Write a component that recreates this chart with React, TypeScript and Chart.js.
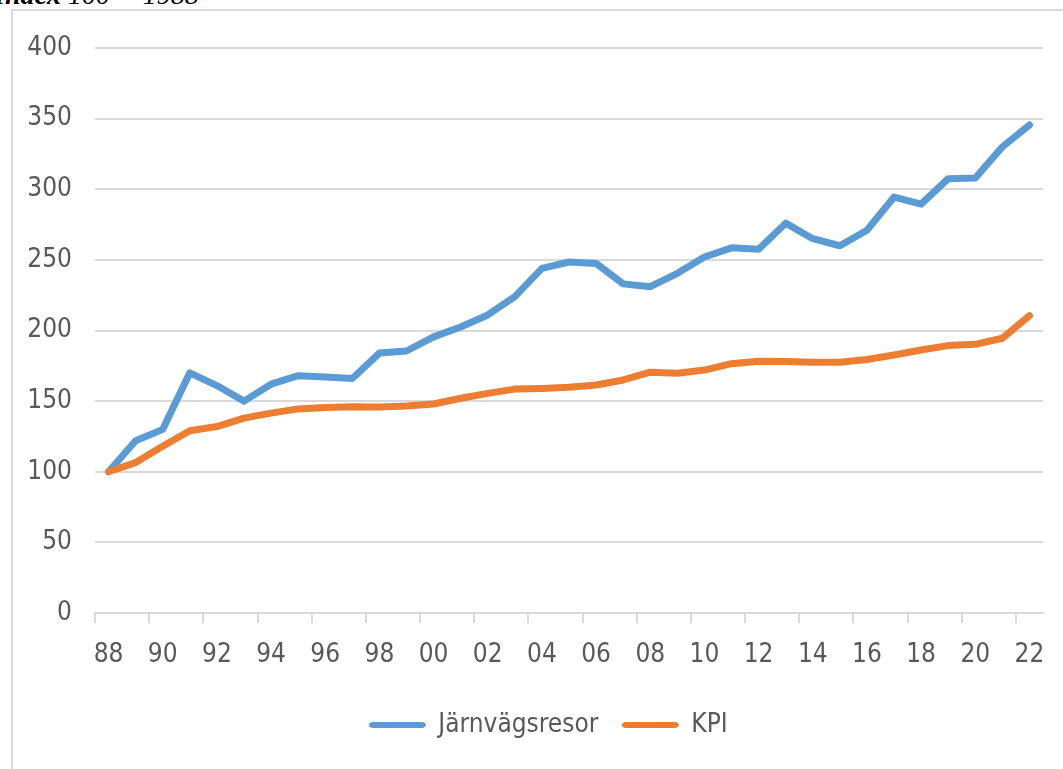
import React, { useEffect, useRef } from "react";
import { Chart, registerables } from "chart.js";

Chart.register(...registerables);

const years = [
  "1988", "1989", "1990", "1991", "1992", "1993", "1994", "1995", "1996", "1997",
  "1998", "1999", "2000", "2001", "2002", "2003", "2004", "2005", "2006", "2007",
  "2008", "2009", "2010", "2011", "2012", "2013", "2014", "2015", "2016", "2017",
  "2018", "2019", "2020", "2021", "2022",
];

const railTrips = [
  100, 122, 130, 170, 161, 150, 162, 168, 167, 166,
  184, 185.5, 195.5, 202.5, 211, 224, 244, 248.5, 247.5, 233,
  231, 240.5, 252, 258.5, 257.5, 276, 265, 260, 271, 294.5,
  289.5, 307.5, 308, 330, 345.5,
];

const cpi = [
  100, 106.5, 118, 129, 132, 138, 141.5, 144.5, 145.5, 146,
  145.8, 146.5, 148, 152, 155.5, 158.5, 159, 159.8, 161.4, 165,
  170.5, 169.7, 172, 176.5, 178.3, 178, 177.5, 177.5, 179.5, 182.7,
  186.2, 189.3, 190.2, 194.5, 210.5,
];

const seriesNames = ["Järnvägsresor", "KPI"];
const seriesColors = ["#5B9BD5", "#ED7D31"];
const yTicks = { min: 0, max: 400, step: 50 };

const FONT = "'DejaVu Sans Condensed', 'Open Sans', sans-serif";
const TEXT = "#595959";
const GRID = "#d9d9d9";

const legendShift = {
  id: "legendShift",
  afterLayout(chart: any) {
    const lg = chart.legend;
    if (lg) {
      lg.left += 27;
      lg.right += 27;
    }
  },
};

export default function App() {
  const ref = useRef<HTMLCanvasElement | null>(null);

  useEffect(() => {
    if (!ref.current) return;
    const chart = new Chart(ref.current, {
      type: "line",
      data: {
        labels: years,
        datasets: [
          {
            label: seriesNames[0],
            data: railTrips,
            borderColor: seriesColors[0],
            backgroundColor: seriesColors[0],
            borderWidth: 7,
            pointRadius: 0,
            tension: 0,
            borderCapStyle: "round",
            borderJoinStyle: "round",
            order: 1,
          },
          {
            label: seriesNames[1],
            data: cpi,
            borderColor: seriesColors[1],
            backgroundColor: seriesColors[1],
            borderWidth: 7,
            pointRadius: 0,
            tension: 0,
            borderCapStyle: "round",
            borderJoinStyle: "round",
            order: 0,
          },
        ],
      },
      plugins: [legendShift],
      options: {
        responsive: false,
        animation: false,
        layout: { padding: { top: 48, right: 20, left: 0, bottom: 21 } },
        plugins: {
          tooltip: { enabled: false },
          legend: {
            position: "bottom",
            labels: {
              color: TEXT,
              font: { family: FONT, size: 26 },
              boxWidth: 56,
              boxHeight: 5,
              padding: 24,
              useBorderRadius: true,
              borderRadius: 3,
              sort: (a: any, b: any) => a.datasetIndex - b.datasetIndex,
              generateLabels: (c: any) => {
                const items = Chart.defaults.plugins.legend.labels.generateLabels(c);
                return items.map((it: any) => {
                  const col = seriesColors[it.datasetIndex];
                  return { ...it, fillStyle: col, strokeStyle: col, lineWidth: 1, borderRadius: 3, fontColor: TEXT };
                });
              },
            },
          },
        },
        scales: {
          x: {
            type: "category",
            offset: true,
            afterFit: (s: any) => {
              s.height = 75;
            },
            grid: {
              offset: true,
              drawOnChartArea: false,
              drawTicks: true,
              tickLength: 10,
              lineWidth: 2,
              tickWidth: 2,
              color: GRID,
              tickColor: (ctx: any) => (typeof ctx.index === "number" && ctx.index % 2 === 0 ? GRID : "rgba(0,0,0,0)"),
            },
            border: { display: true, color: GRID, width: 2 },
            ticks: {
              autoSkip: false,
              maxRotation: 0,
              minRotation: 0,
              padding: 17,
              color: TEXT,
              font: { family: FONT, size: 26 },
              callback: (_v: any, i: number) => (i % 2 === 0 ? years[i].slice(2) : ""),
            },
          },
          y: {
            min: yTicks.min,
            max: yTicks.max,
            afterFit: (s: any) => {
              s.width = 95;
            },
            grid: { color: GRID, lineWidth: 2, drawTicks: false },
            border: { display: false },
            ticks: {
              stepSize: yTicks.step,
              padding: 23,
              color: TEXT,
              font: { family: FONT, size: 26 },
            },
          },
        },
      },
    });
    return () => chart.destroy();
  }, []);

  return (
    <div style={{ position: "fixed", left: 0, top: 0, width: 1063, height: 769, overflow: "hidden", background: "#fff" }}>
      <div
        style={{
          position: "absolute",
          left: 11,
          top: 9,
          width: 1100,
          height: 800,
          border: "2px solid #d9d9d9",
          boxSizing: "border-box",
        }}
      />
      <div
        style={{
          position: "absolute",
          left: -6,
          top: -19,
          whiteSpace: "nowrap",
          fontFamily: "'Liberation Serif', 'Times New Roman', serif",
          fontSize: 28,
          lineHeight: "28px",
          fontStyle: "italic",
          color: "#000",
        }}
      >
        <b>Index</b> 100 = 1988
      </div>
      <canvas ref={ref} width={1063} height={769} style={{ position: "absolute", left: 0, top: 0 }} />
    </div>
  );
}
